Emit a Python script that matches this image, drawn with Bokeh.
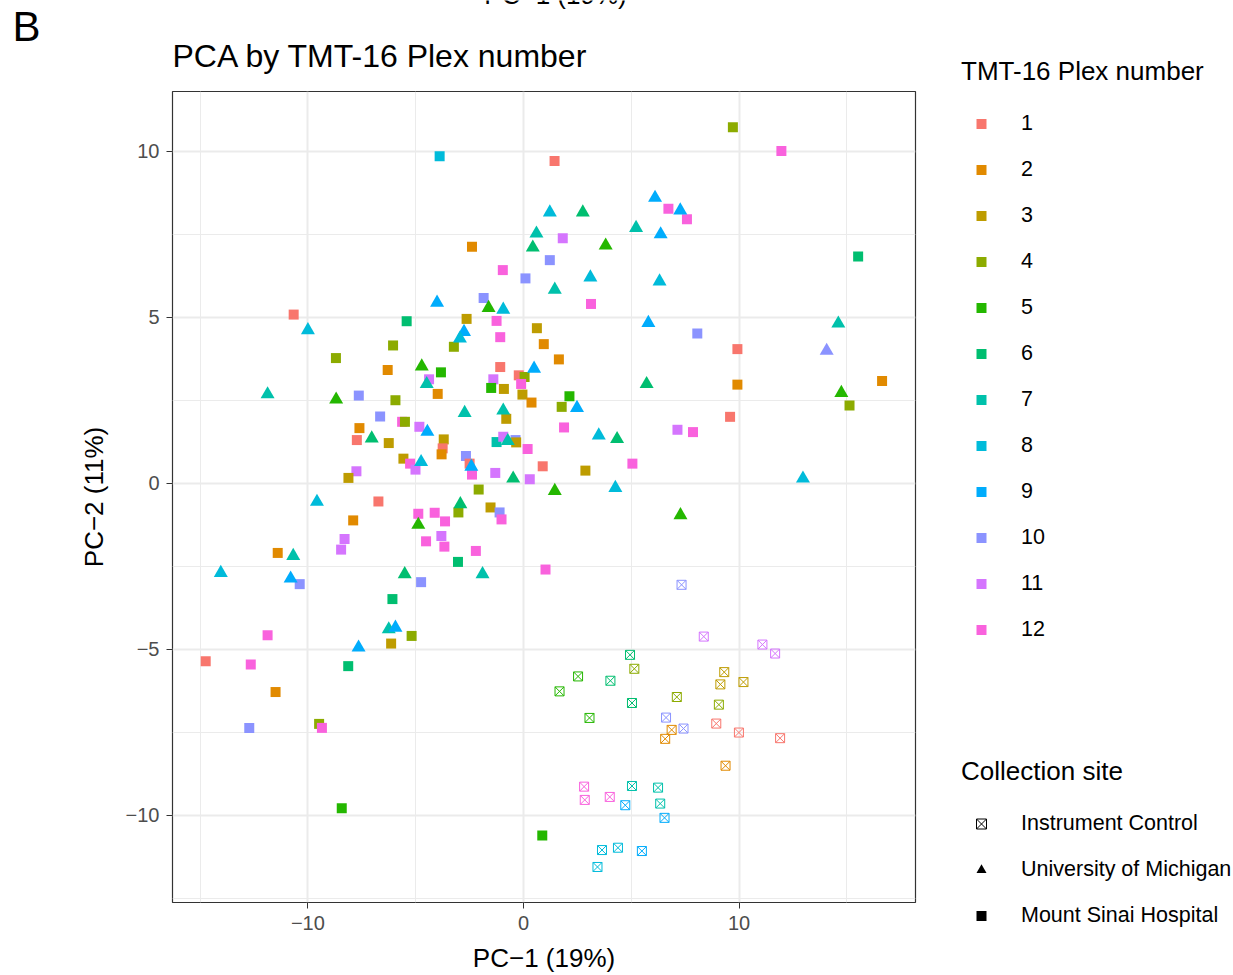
from bokeh.plotting import figure
from bokeh.layouts import column, row
from bokeh.models import (Range1d, FixedTicker, Label, Legend, LegendItem,
                          ColumnDataSource)
from bokeh.transform import factor_cmap
from bokeh.embed import file_html
from bokeh.resources import INLINE

FONT = "Liberation Sans"
NAN = float("nan")

# Plex numbers and their hue palette
plex_levels = [str(i) for i in range(1, 13)]
plex_colors = ["#F8766D", "#E18A00", "#BE9C00", "#8CAB00", "#24B700", "#00BE70",
               "#00C1AB", "#00BBDA", "#00ACFC", "#8B93FF", "#D575FE", "#F962DD"]

site_labels = ["Instrument Control", "University of Michigan", "Mount Sinai Hospital"]

# Mount Sinai Hospital samples
ms_pc1 = [-10.66, -3.89, 1.44, 6.72, 1.82, -2.39, 1.22, -0.96, 0.09, -1.85, 3.13, -2.64,
          -1.25, 0.62, 9.71, 11.96, 7.58, 15.52, 8.06, 9.92, 9.92, 16.63, 15.12, 9.58,
          7.14, 7.86, -5.42, -6.05, -8.70, -6.30, -7.64, -5.94, -6.65, -5.63, -5.50, -4.83,
          -7.61, -7.73, -6.25, -5.57, -5.26, -5.01, -7.75, -8.12, -6.73, -4.88, -7.90, -8.30,
          -8.46, -11.40, -1.08, 0.94, -3.23, 1.64, -3.83, -1.08, -4.38, -1.40, -0.22, 0.05,
          -0.11, -1.50, -0.91, -3.98, -0.05, 0.37, 2.13, 1.77, -0.80, 1.88, -3.70, -3.75,
          -3.80, -1.25, -0.94, -0.37, -0.34, 0.19, -2.67, -2.50, -2.39, -1.31, 0.29, 0.89,
          2.87, 5.05, -2.08, -3.02, -1.53, -1.11, -1.02, -4.12, -3.64, -3.81, -4.52, -3.67,
          -2.21, -3.04, 1.02, -10.38, -4.75, -6.08, -5.19, -6.14, -11.87, -14.74, -12.65, -8.13,
          -11.50, -12.72, -9.48, -9.35, -8.43, 0.87]
ms_pc2 = [5.08, 9.85, 9.71, 8.27, 7.38, 7.12, 6.72, 6.42, 6.17, 5.58, 5.40, 4.95,
          4.89, 4.67, 10.72, 10.01, 7.95, 6.83, 4.51, 4.04, 2.97, 3.08, 2.34, 2.00,
          1.61, 1.54, 4.88, 4.15, 3.77, 3.41, 2.64, 2.50, 2.01, 1.85, 1.85, 1.70,
          1.66, 1.30, 1.21, 0.74, 0.59, 0.41, 0.36, 0.16, -0.55, -0.92, -1.12, -1.68,
          -2.00, -2.10, 4.40, 4.19, 4.11, 3.73, 3.34, 3.50, 3.13, 3.13, 3.25, 3.20,
          2.99, 2.87, 2.84, 2.69, 2.67, 2.43, 2.62, 2.30, 1.94, 1.68, 1.32, 1.05,
          0.87, 1.24, 1.40, 1.30, 1.23, 1.03, 0.82, 0.59, 0.26, 0.31, 0.12, 0.51,
          0.38, 0.59, -0.19, -0.88, -0.73, -0.88, -1.09, -0.89, -1.15, -1.59, -1.75, -1.91,
          -2.04, -2.37, -2.60, -3.04, -2.98, -3.49, -4.60, -4.83, -4.58, -5.36, -5.46, -5.51,
          -6.29, -7.37, -7.25, -7.37, -9.79, -10.61]
ms_plex = [1, 8, 1, 12, 11, 2, 10, 12, 10, 10, 12, 3,
           12, 3, 4, 12, 12, 6, 10, 1, 2, 2, 4, 1,
           11, 12, 6, 4, 4, 2, 10, 4, 10, 12, 4, 11,
           2, 1, 3, 3, 12, 11, 11, 3, 1, 12, 2, 11,
           11, 2, 12, 2, 4, 2, 5, 1, 11, 11, 1, 4,
           12, 5, 3, 2, 3, 2, 5, 4, 3, 12, 3, 1,
           2, 7, 11, 10, 3, 12, 10, 1, 12, 11, 11, 1,
           3, 12, 4, 4, 3, 10, 12, 12, 12, 11, 12, 12,
           12, 6, 12, 10, 10, 6, 4, 3, 12, 1, 12, 6,
           2, 10, 4, 12, 5, 5]

# University of Michigan samples
um_pc1 = [-10.00, 6.10, 1.22, 2.75, 5.22, 6.36, 0.60, 0.43, 3.81, 3.10, 6.31, 1.45,
          -4.01, -1.62, -0.94, 5.79, 7.27, 14.60, 14.06, 14.74, 12.96, 7.28, -4.72, -11.87,
          -8.69, -7.04, -4.75, -9.58, -4.88, -10.68, -2.76, -2.95, 0.49, -4.49, 5.71, 2.48,
          -2.73, -0.94, -4.46, 3.49, 4.34, -0.73, -2.42, -0.48, 4.26, 1.45, -2.93, -14.04,
          -10.80, -5.51, -6.25, -5.94, -7.65, -1.90]
um_pc2 = [4.61, 8.60, 8.16, 8.16, 7.69, 7.50, 7.52, 7.10, 7.16, 6.20, 6.08, 5.83,
          5.44, 5.28, 5.23, 4.83, 8.22, 4.81, 3.99, 2.72, 0.14, -0.96, 3.52, 2.68,
          2.52, 1.35, 0.64, -0.56, -1.25, -2.19, 4.56, 4.36, 3.45, 2.99, 2.99, 2.27,
          2.12, 2.19, 1.55, 1.44, 1.33, 1.27, 0.50, 0.14, -0.14, -0.23, -0.63, -2.70,
          -2.87, -2.74, -4.40, -4.35, -4.95, -2.74]
um_plex = [8, 9, 8, 6, 7, 9, 7, 6, 5, 8, 8, 7,
           9, 5, 8, 9, 9, 7, 10, 5, 8, 5, 5, 7,
           5, 6, 8, 8, 5, 7, 9, 8, 9, 7, 6, 9,
           7, 7, 9, 8, 6, 7, 9, 6, 8, 5, 6, 8,
           9, 6, 7, 9, 9, 7]

# Instrument control runs
ic_pc1 = [4.94, 5.14, 2.53, 4.03, 1.67, 5.03, 3.06, 6.61, 6.87, 6.57, 2.81, 2.84,
          4.00, 5.03, 6.24, 6.34, 4.72, 6.54, 3.64, 4.38, 5.49, 3.43, 7.33, 8.36,
          11.08, 11.67, 9.31, 9.13, 10.20, 7.11, 9.06, 7.42, 8.94, 9.99, 11.90, 9.37]
ic_pc2 = [-5.17, -5.59, -5.82, -5.95, -6.27, -6.62, -7.07, -7.06, -7.43, -7.70, -9.14, -9.54,
          -9.45, -9.12, -9.17, -9.65, -9.70, -10.08, -11.05, -10.98, -11.08, -11.56, -3.06, -4.62,
          -4.86, -5.13, -5.69, -6.06, -5.99, -6.44, -6.67, -7.39, -7.24, -7.51, -7.68, -8.51]
ic_plex = [6, 4, 5, 6, 5, 6, 5, 10, 2, 2, 12, 12,
           12, 7, 7, 7, 9, 9, 8, 8, 9, 8, 10, 11,
           11, 11, 3, 3, 3, 4, 4, 10, 1, 1, 1, 2]


def blank(width, height):
    """A bare figure whose frame fills the whole canvas (pixel coordinates)."""
    f = figure(width=width, height=height, x_range=Range1d(0, width),
               y_range=Range1d(0, height), output_backend="svg",
               toolbar_location=None, min_border=0, title=None,
               x_axis_type=None, y_axis_type=None)
    f.grid.visible = False
    f.outline_line_color = None
    f.background_fill_color = "white"
    f.border_fill_color = "white"
    return f


# ---- heading strip -------------------------------------------------------
head = blank(930, 85)
head.add_layout(Label(x=12, y=59, x_units="screen", y_units="screen", text="B",
                      text_font=FONT, text_font_size="42px", text_color="black",
                      text_baseline="alphabetic"))
head.add_layout(Label(x=172, y=30, x_units="screen", y_units="screen",
                      text="PCA by TMT-16 Plex number",
                      text_font=FONT, text_font_size="32px", text_color="black",
                      text_baseline="alphabetic"))
head.add_layout(Label(x=555, y=91, x_units="screen", y_units="screen",
                      text="PC\u22121 (19%)", text_align="center",
                      text_font=FONT, text_font_size="26px", text_color="black",
                      text_baseline="alphabetic"))

# ---- scatter panel -------------------------------------------------------
p = figure(frame_width=743, frame_height=811,
           min_border_left=172, min_border_right=15,
           min_border_top=6, min_border_bottom=73,
           x_range=Range1d(-16.28, 18.18), y_range=Range1d(-12.63, 11.80),
           output_backend="svg", toolbar_location=None,
           background_fill_color="white", border_fill_color="white")

p.outline_line_color = "#333333"
p.outline_line_width = 1.2

for g in (p.xgrid, p.ygrid):
    g.grid_line_color = "#EBEBEB"
    g.grid_line_width = 2
    g.minor_grid_line_color = "#EBEBEB"
    g.minor_grid_line_width = 1

p.xaxis.ticker = FixedTicker(ticks=[-10, 0, 10], minor_ticks=[-15, -5, 5, 15])
p.yaxis.ticker = FixedTicker(ticks=[-10, -5, 0, 5, 10],
                             minor_ticks=[-12.5, -7.5, -2.5, 2.5, 7.5])
p.xaxis.major_label_overrides = {-10: "\u221210", 0: "0", 10: "10"}
p.yaxis.major_label_overrides = {-10: "\u221210", -5: "\u22125", 0: "0", 5: "5", 10: "10"}

for ax in (p.xaxis, p.yaxis):
    ax.axis_line_color = None
    ax.major_tick_line_color = "#333333"
    ax.major_tick_in = 0
    ax.major_tick_out = 6
    ax.minor_tick_line_color = None
    ax.major_label_text_font = FONT
    ax.major_label_text_font_size = "20px"
    ax.major_label_text_color = "#4D4D4D"
    ax.major_label_standoff = 7
    ax.axis_label_text_font = FONT
    ax.axis_label_text_font_size = "26px"
    ax.axis_label_text_font_style = "normal"
    ax.axis_label_text_color = "black"

p.xaxis.axis_label_standoff = 10
p.yaxis.axis_label_standoff = 14
p.xaxis.axis_label = "PC\u22121 (19%)"
p.yaxis.axis_label = "PC\u22122 (11%)"

cmap_fill = factor_cmap("plex", plex_colors, plex_levels)

ms_src = ColumnDataSource(dict(x=ms_pc1, y=ms_pc2, plex=[str(v) for v in ms_plex]))
um_src = ColumnDataSource(dict(x=um_pc1, y=um_pc2, plex=[str(v) for v in um_plex]))
ic_src = ColumnDataSource(dict(x=ic_pc1, y=ic_pc2, plex=[str(v) for v in ic_plex]))

p.scatter("x", "y", source=ms_src, marker="square", size=10,
          fill_color=cmap_fill, line_color=None)
p.scatter("x", "y", source=um_src, marker="triangle", size=14,
          fill_color=cmap_fill, line_color=None)
p.scatter("x", "y", source=ic_src, marker="square_x", size=9,
          fill_color=None, line_color=cmap_fill, line_width=1)

# ---- legends (full-height strip on the right) ---------------------------
leg = blank(303, 975)

plex_items = []
for lvl, col in zip(plex_levels, plex_colors):
    r = leg.scatter(x=[NAN], y=[NAN], marker="square", size=10,
                    fill_color=col, line_color=None)
    plex_items.append(LegendItem(label=lvl, renderers=[r]))

r_ic = leg.scatter(x=[NAN], y=[NAN], marker="square_x", size=9, fill_color=None,
                   line_color="black", line_width=1)
r_um = leg.scatter(x=[NAN], y=[NAN], marker="triangle", size=13, fill_color="black",
                   line_color=None)
r_ms = leg.scatter(x=[NAN], y=[NAN], marker="square", size=10, fill_color="black",
                   line_color=None)
site_items = [LegendItem(label=site_labels[0], renderers=[r_ic]),
              LegendItem(label=site_labels[1], renderers=[r_um]),
              LegendItem(label=site_labels[2], renderers=[r_ms])]


def make_legend(title, items, loc):
    return Legend(title=title, items=items, location=loc,
                  title_text_font=FONT, title_text_font_size="26px",
                  title_text_font_style="normal", title_text_color="black",
                  title_standoff=24,
                  label_text_font=FONT, label_text_font_size="21.5px",
                  label_text_color="black",
                  glyph_width=40, glyph_height=25, label_height=25,
                  label_standoff=20, spacing=21, padding=0, margin=0,
                  border_line_color=None, background_fill_alpha=0)


leg.add_layout(make_legend("TMT-16 Plex number", plex_items, (31, 333)))
leg.add_layout(make_legend("Collection site", site_items, (31, 47)))

# the scatter panel sits in its own row so the heading strip keeps its own frame
layout = row(column(head, row(p, spacing=0), spacing=0), leg, spacing=0)

open("out.html", "w").write(file_html(layout, INLINE))
